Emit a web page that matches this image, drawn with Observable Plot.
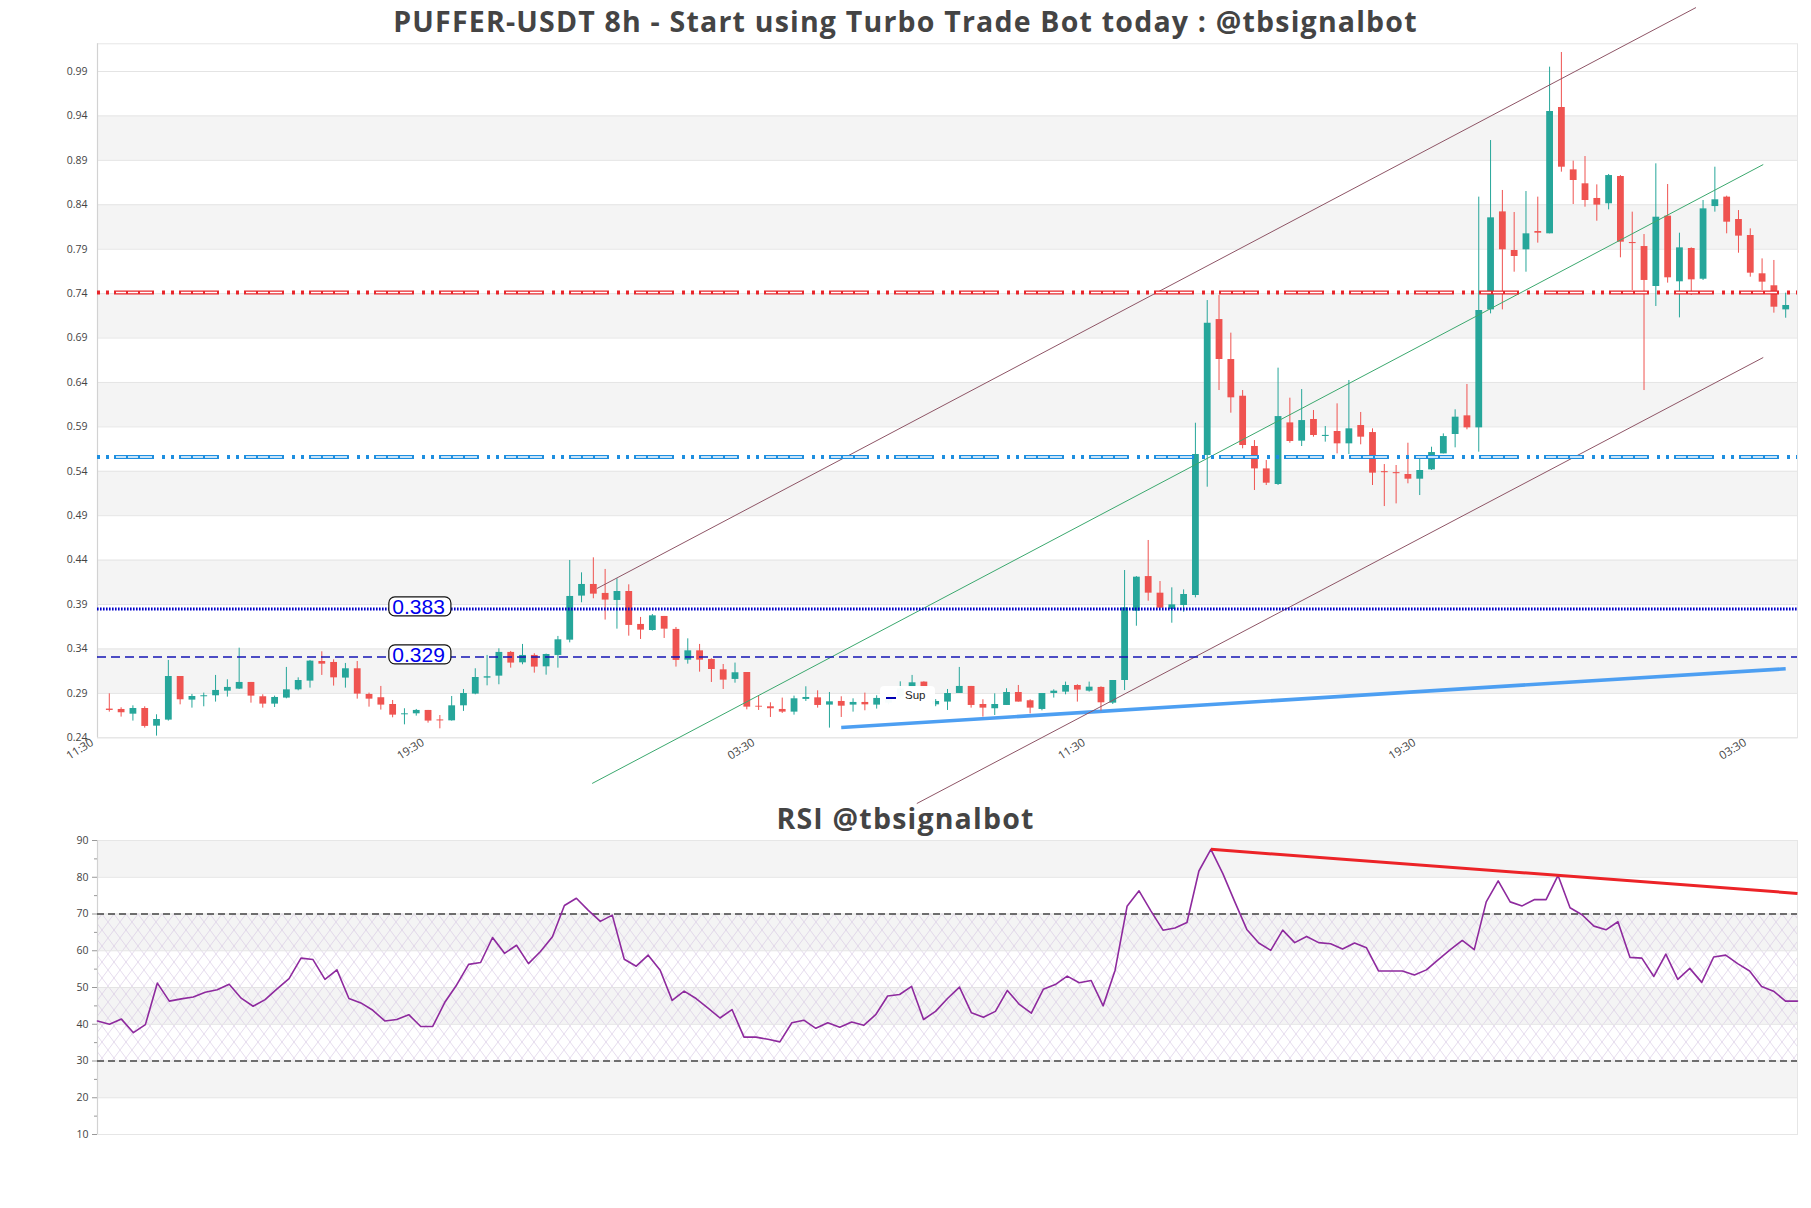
<!DOCTYPE html>
<html>
<head>
<meta charset="utf-8">
<script src="https://cdn.jsdelivr.net/npm/d3@7"></script>
<script src="https://cdn.jsdelivr.net/npm/@observablehq/plot@0.6"></script>
<style>
  html, body { margin: 0; padding: 0; background: #fff; }
  #chart { position: relative; width: 1811px; height: 1208px; overflow: hidden; background: #fff; }
  #chart svg { position: absolute; left: 0; overflow: visible; }
  .ttl { position: absolute; left: 0; width: 1811px; text-align: center; font-family: "Open Sans", sans-serif;
         font-weight: 700; font-size: 28.5px; letter-spacing: 1.2px; color: #444; line-height: 1; white-space: nowrap; z-index: 5; }
  .legend { position: absolute; background: rgba(255,255,255,0.96); border-radius: 4px; z-index: 4; }
  .legend .ln { position: absolute; left: 6px; top: 10.5px; width: 10px; height: 2.6px; background: #0000b4; }
  .legend .tx { position: absolute; left: 25px; top: 3px; font-family: "Liberation Sans", sans-serif; font-size: 11.5px; color: #222; }
</style>
</head>
<body>
<div id="chart"></div>
<script>
// ---------------- data ----------------
const titleText = "PUFFER-USDT 8h - Start using Turbo Trade Bot today : @tbsignalbot";
const rsiTitleText = "RSI @tbsignalbot";
const legendText = "Sup";

const timeTickIndex = [-1, 27, 55, 83, 111, 139];
const timeLabels = ["11:30", "19:30", "03:30", "11:30", "19:30", "03:30"];

const open = [0.2723,0.2719,0.2666,0.2730,0.2531,0.2599,0.3090,0.2824,0.2862,0.2873,
0.2925,0.2948,0.3023,0.2862,0.2779,0.2847,0.2940,0.3038,0.3259,0.3248,
0.3072,0.3177,0.2888,0.2851,0.2775,0.2659,0.2670,0.2708,0.2601,0.2591,
0.2760,0.2892,0.3072,0.3094,0.3361,0.3244,0.3327,0.3199,0.3327,0.3499,
0.3995,0.4126,0.4025,0.3946,0.4047,0.3676,0.3608,0.3766,0.3620,0.3274,
0.3379,0.3282,0.3165,0.3057,0.3135,0.2755,0.2749,0.2719,0.2689,0.2832,
0.2850,0.2768,0.2809,0.2768,0.2798,0.2768,0.2790,0.2860,0.2970,0.3027,
0.2771,0.2802,0.2899,0.2978,0.2775,0.2727,0.2764,0.2910,0.2817,0.2719,
0.2899,0.2914,0.2989,0.2925,0.2967,0.2790,0.3045,0.3825,0.4215,0.4028,
0.3844,0.3889,0.4002,0.5577,0.7108,0.6658,0.6245,0.5679,0.5427,0.5251,
0.5945,0.5739,0.5983,0.5792,0.5848,0.5709,0.5915,0.5836,0.5396,0.5385,
0.5364,0.5311,0.5416,0.5596,0.5814,0.6024,0.5889,0.7217,0.8320,0.7885,
0.7893,0.8099,0.8073,0.9495,0.8793,0.8636,0.8471,0.8411,0.8718,0.7975,
0.7930,0.7480,0.8272,0.7533,0.7908,0.7562,0.8380,0.8486,0.8234,0.8054,
0.7623,0.7488,0.7217];
const high = [0.2895,0.2738,0.2760,0.2749,0.2659,0.3271,0.3090,0.2888,0.2903,0.3102,
0.3053,0.3409,0.3023,0.2884,0.2869,0.3192,0.3075,0.3271,0.3368,0.3278,
0.3237,0.3259,0.2903,0.2978,0.2820,0.2727,0.2719,0.2708,0.2651,0.2865,
0.2944,0.3177,0.3327,0.3402,0.3372,0.3451,0.3346,0.3342,0.3541,0.4396,
0.4257,0.4426,0.4295,0.4190,0.4122,0.3755,0.3788,0.3766,0.3642,0.3514,
0.3451,0.3289,0.3225,0.3241,0.3135,0.2869,0.2794,0.2847,0.2869,0.2974,
0.2929,0.2910,0.2862,0.2839,0.2903,0.2873,0.2860,0.3030,0.3102,0.3030,
0.2830,0.2944,0.3192,0.2978,0.2828,0.2895,0.2952,0.2989,0.2828,0.2899,
0.2940,0.3027,0.2997,0.3027,0.2974,0.3045,0.4283,0.4215,0.4621,0.4159,
0.4088,0.4065,0.5941,0.7322,0.7378,0.6955,0.6309,0.5746,0.5521,0.6561,
0.6223,0.6320,0.6084,0.5904,0.6159,0.6422,0.6062,0.5878,0.5476,0.5465,
0.5716,0.5540,0.5671,0.5821,0.6092,0.6377,0.8486,0.9123,0.8561,0.8313,
0.8549,0.8486,0.9949,1.0114,0.8891,0.8943,0.8624,0.8741,0.8729,0.8317,
0.8065,0.8861,0.8628,0.8080,0.7915,0.8448,0.8823,0.8497,0.8335,0.8129,
0.7791,0.7773,0.7405];
const low = [0.2689,0.2633,0.2588,0.2509,0.2419,0.2588,0.2771,0.2734,0.2749,0.2802,
0.2858,0.2944,0.2790,0.2734,0.2741,0.2839,0.2929,0.2959,0.3102,0.2982,
0.2959,0.2835,0.2745,0.2712,0.2625,0.2546,0.2644,0.2565,0.2501,0.2588,
0.2697,0.2884,0.2985,0.2997,0.3184,0.3222,0.3128,0.3105,0.3184,0.3469,
0.3920,0.3965,0.3725,0.3623,0.3544,0.3507,0.3601,0.3518,0.3196,0.3229,
0.3139,0.3023,0.2944,0.3015,0.2715,0.2708,0.2629,0.2674,0.2655,0.2809,
0.2734,0.2509,0.2629,0.2689,0.2704,0.2723,0.2770,0.2840,0.2960,0.2940,
0.2750,0.2708,0.2899,0.2734,0.2633,0.2651,0.2764,0.2802,0.2670,0.2704,
0.2847,0.2884,0.2802,0.2914,0.2700,0.2775,0.2932,0.3656,0.3938,0.3859,
0.3690,0.3814,0.3975,0.5221,0.6309,0.6054,0.5653,0.5184,0.5240,0.5240,
0.5716,0.5679,0.5784,0.5728,0.5596,0.5589,0.5698,0.5240,0.5003,0.5033,
0.5259,0.5127,0.5409,0.5596,0.5664,0.5867,0.5615,0.7172,0.7217,0.7641,
0.7641,0.7968,0.8073,0.8767,0.8403,0.8373,0.8215,0.8343,0.7803,0.7435,
0.6309,0.7255,0.7518,0.7127,0.7379,0.7548,0.8317,0.8073,0.7855,0.7585,
0.7435,0.7180,0.7123];
const close = [0.2708,0.2682,0.2730,0.2528,0.2606,0.3090,0.2828,0.2865,0.2873,0.2933,
0.2967,0.3023,0.2869,0.2779,0.2854,0.2940,0.3045,0.3263,0.3229,0.3075,
0.3177,0.2892,0.2835,0.2768,0.2655,0.2670,0.2708,0.2588,0.2590,0.2760,
0.2899,0.3079,0.3087,0.3361,0.3241,0.3327,0.3196,0.3338,0.3503,0.3991,
0.4126,0.4017,0.3950,0.4047,0.3665,0.3612,0.3773,0.3623,0.3271,0.3379,
0.3274,0.3169,0.3049,0.3132,0.2745,0.2745,0.2727,0.2689,0.2839,0.2854,
0.2764,0.2805,0.2756,0.2798,0.2771,0.2843,0.2830,0.2950,0.3019,0.2960,
0.2809,0.2899,0.2978,0.2764,0.2734,0.2775,0.2910,0.2802,0.2734,0.2899,
0.2925,0.2989,0.2937,0.2970,0.2794,0.3045,0.3863,0.4208,0.4028,0.3859,
0.3897,0.4013,0.5589,0.7067,0.6658,0.6227,0.5690,0.5427,0.5266,0.6016,
0.5735,0.5971,0.5803,0.5804,0.5709,0.5878,0.5784,0.5379,0.5384,0.5373,
0.5311,0.5409,0.5611,0.5791,0.6009,0.5889,0.7210,0.8253,0.7893,0.7818,
0.8073,0.8080,0.9450,0.8823,0.8673,0.8448,0.8396,0.8729,0.7979,0.7963,
0.7548,0.8260,0.7578,0.7915,0.7555,0.8354,0.8456,0.8204,0.8047,0.7630,
0.7529,0.7247,0.7266];

const rsi = [40.9,40.0,41.4,37.7,39.9,51.2,46.3,46.9,47.4,48.7,
49.4,50.9,47.1,44.9,46.7,49.6,52.4,58.0,57.6,52.2,
54.8,47.0,45.8,43.8,40.9,41.3,42.6,39.4,39.4,45.9,
50.7,56.3,56.8,63.6,59.3,61.5,56.5,59.8,63.8,72.3,
74.3,71.0,68.0,69.7,57.7,55.8,58.8,54.7,46.5,49.0,
47.0,44.4,41.7,44.0,36.5,36.5,35.9,35.2,40.4,41.1,
38.9,40.4,39.2,40.6,39.7,42.6,47.7,48.1,50.3,41.3,
43.5,47.0,50.1,43.1,41.9,43.5,49.2,45.4,43.0,49.5,
50.8,53.1,51.3,51.9,45.0,54.7,72.1,76.3,70.8,65.6,
66.2,67.7,81.7,87.6,81.0,73.3,65.8,62.1,60.1,65.6,
62.2,63.9,62.2,61.9,60.5,62.1,60.8,54.5,54.5,54.5,
53.4,54.8,57.6,60.3,62.8,60.3,73.3,79.0,73.3,72.2,
73.9,73.9,80.5,71.7,69.8,66.7,65.7,67.9,58.2,58.0,
53.0,59.1,52.2,55.2,51.4,58.3,58.8,56.5,54.5,50.3,
49.0,46.3,46.3];

const yTicks = [0.24,0.29,0.34,0.39,0.44,0.49,0.54,0.59,0.64,0.69,0.74,0.79,0.84,0.89,0.94,0.99];
const yTickLabels = ["0.24","0.29","0.34","0.39","0.44","0.49","0.54","0.59","0.64","0.69","0.74","0.79","0.84","0.89","0.94","0.99"];
const rsiTicks = [10,20,30,40,50,60,70,80,90];
const rsiMinorTicks = [15,25,35,45,55,65,75,85];
const rsiLevels = [70, 30];

const resistanceLevel = 0.7413;
const supplyLevel = 0.5561;
const fibLevels = [0.3850, 0.3310];
const fibLabels = ["0.383", "0.329"];

// trend channel (candle index, price)
const channelUpper = [[41.3, 0.408], [134.4, 1.062]];
const channelMiddle = [[40.9, 0.1886], [140.1, 0.8853]];
const channelLower = [[68.4, 0.166], [140.1, 0.6681]];
const supportLine = [[62, 0.2516], [142, 0.3177]];
// RSI divergence line (index, rsi)
const rsiTrend = [[93, 87.6], [142, 75.6]];

// ---------------- styles ----------------
const GREEN = "#26a69a", RED = "#ef5350";
const BAND = "#f4f4f4", GRID = "#e4e4e4";
const fibLabelIndex = 26.2;
const PATTERN_BASE = "3,6,3,5,40,8";
const PATTERN_HOLLOW = "0,19,10,2,10,2,12,10";

const chart = document.getElementById("chart");

const candles = open.map((o, i) => ({i, open: o, high: high[i], low: low[i], close: close[i]}));
const ups = candles.filter(d => d.close >= d.open);
const downs = candles.filter(d => d.close < d.open);
const priceBands = yTicks.slice(0, -1).map((t, k) => ({y1: t, y2: yTicks[k + 1], k})).filter(d => d.k % 2 === 1);
const seg = (p, name) => ({x1: p[0][0], y1: p[0][1], x2: p[1][0], y2: p[1][1], name});
const brownLinks = [seg(channelUpper, "upper"), seg(channelLower, "lower")];
const greenLinks = [seg(channelMiddle, "middle")];
const supLinks = [seg(supportLine, "sup")];
const fibData = fibLevels.map((v, k) => ({x: fibLabelIndex, y: v, label: fibLabels[k]}));

const baseStyle = {fontFamily: "Open Sans", fontSize: "10.5px", color: "#444", background: "transparent", overflow: "visible"};

const priceSvg = Plot.plot({
  width: 1811, height: 810,
  marginLeft: 97, marginRight: 14, marginTop: 43.3, marginBottom: 72.7,
  x: {domain: [-1, 143], label: null},
  y: {domain: [0.24, 1.0212], label: null},
  style: baseStyle,
  marks: [
    Plot.rect(priceBands, {y1: "y1", y2: "y2", fill: BAND}),
    Plot.gridY(yTicks, {stroke: GRID, strokeOpacity: 1}),
    Plot.frame({stroke: "#e6e6e6"}),
    Plot.ruleX([-1], {stroke: "#d2d2d2", strokeWidth: 1.2}),
    Plot.axisY(yTicks, {tickSize: 0, tickPadding: 10, label: null, fill: "#444",
      tickFormat: d => yTickLabels[yTicks.indexOf(d)]}),
    Plot.axisX(timeTickIndex, {tickSize: 0, tickPadding: 3.5, tickRotate: -32, label: null, fill: "#444",
      fontSize: 11.5, dx: -5, tickFormat: d => timeLabels[timeTickIndex.indexOf(d)]}),
    Plot.link(supLinks, {x1: "x1", y1: "y1", x2: "x2", y2: "y2", stroke: "#4d9ff2", strokeWidth: 3.6}),
    Plot.ruleX(ups, {x: "i", y1: "low", y2: "high", stroke: GREEN, strokeWidth: 1}),
    Plot.ruleX(downs, {x: "i", y1: "low", y2: "high", stroke: RED, strokeWidth: 1}),
    Plot.ruleX(ups, {x: "i", y1: "open", y2: "close", stroke: GREEN, strokeWidth: 6.8}),
    Plot.ruleX(downs, {x: "i", y1: "open", y2: "close", stroke: RED, strokeWidth: 6.8}),
    Plot.link(brownLinks, {x1: "x1", y1: "y1", x2: "x2", y2: "y2", stroke: "#8e5566", strokeWidth: 1}),
    Plot.link(greenLinks, {x1: "x1", y1: "y1", x2: "x2", y2: "y2", stroke: "#3ba86e", strokeWidth: 1}),
    Plot.ruleY([resistanceLevel], {stroke: "#e8262b", strokeWidth: 4, strokeDasharray: PATTERN_BASE}),
    Plot.ruleY([resistanceLevel], {stroke: "#ffffff", strokeWidth: 1.5, strokeDasharray: PATTERN_HOLLOW}),
    Plot.ruleY([supplyLevel], {stroke: "#1e8fe0", strokeWidth: 4, strokeDasharray: PATTERN_BASE}),
    Plot.ruleY([supplyLevel], {stroke: "#ffffff", strokeWidth: 1.5, strokeDasharray: PATTERN_HOLLOW}),
    Plot.ruleY([fibLevels[0]], {stroke: "#0000c8", strokeWidth: 3, strokeDasharray: "1.6,1.4"}),
    Plot.ruleY([fibLevels[1]], {stroke: "#1414b4", strokeWidth: 1.5, strokeDasharray: "9,5"}),
    Plot.text(fibData, {x: "x", y: "y", text: "label", fill: "#0000ee", fontFamily: "Liberation Sans",
      fontSize: 21, textAnchor: "middle", dy: -2, className: "fib-label"})
  ]
});
priceSvg.style.top = "0px";
chart.appendChild(priceSvg);

// rounded boxes behind the level labels
d3.select(priceSvg).selectAll("g.fib-label text").each(function() {
  const b = this.getBBox();
  const cy = b.y + 0.547 * 21;
  const r = d3.select(this.parentNode).insert("rect", () => this)
    .attr("x", b.x - 3.5).attr("y", cy - 9.3)
    .attr("width", b.width + 9.5).attr("height", 19)
    .attr("rx", 6).attr("ry", 6)
    .attr("fill", "#fff").attr("stroke", "#111").attr("stroke-width", 1.2);
  const t = this.getAttribute("transform");
  if (t) r.attr("transform", t);
});

// ---------------- RSI panel ----------------
const rsiData = rsi.map((v, i) => ({i, v}));
const rsiBands = rsiTicks.slice(0, -1).map((t, k) => ({y1: t, y2: rsiTicks[k + 1], k})).filter(d => d.k % 2 === 1);
const hatchZone = [{y1: rsiLevels[1], y2: rsiLevels[0]}];
const rsiTrendLinks = [seg(rsiTrend, "div")];

const rsiSvg = Plot.plot({
  width: 1811, height: 398,
  marginLeft: 97, marginRight: 14, marginTop: 30, marginBottom: 74,
  x: {domain: [0, 142], label: null, axis: null},
  y: {domain: [10, 90], label: null},
  style: baseStyle,
  marks: [
    Plot.rect(rsiBands, {y1: "y1", y2: "y2", fill: BAND}),
    Plot.rect(hatchZone, {y1: "y1", y2: "y2", fill: "url(#rsiHatch)"}),
    Plot.gridY(rsiTicks, {stroke: GRID, strokeOpacity: 1}),
    Plot.frame({stroke: "#e6e6e6"}),
    Plot.ruleX([0], {stroke: "#d2d2d2", strokeWidth: 1.2}),
    Plot.axisY(rsiTicks, {tickSize: 5, tickPadding: 4, label: null, fill: "#444", stroke: "#999"}),
    Plot.axisY(rsiMinorTicks, {tickSize: 3, tickFormat: () => "", label: null, stroke: "#999"}),
    Plot.ruleY(rsiLevels, {stroke: "#444", strokeWidth: 1.3, strokeDasharray: "7,4"}),
    Plot.line(rsiData, {x: "i", y: "v", stroke: "#8e2a9e", strokeWidth: 1.6}),
    Plot.link(rsiTrendLinks, {x1: "x1", y1: "y1", x2: "x2", y2: "y2", stroke: "#ec2327", strokeWidth: 3})
  ]
});
rsiSvg.style.top = "810px";
chart.appendChild(rsiSvg);

const defs = d3.select(rsiSvg).insert("defs", ":first-child");
const pat = defs.append("pattern").attr("id", "rsiHatch").attr("patternUnits", "userSpaceOnUse")
  .attr("width", 12).attr("height", 16);
pat.append("path").attr("d", "M0,0L12,16M12,0L0,16").attr("stroke", "#d3c2e1")
  .attr("stroke-width", 0.6).attr("fill", "none");

// ---------------- titles & legend ----------------
const t1 = document.createElement("div");
t1.className = "ttl"; t1.style.top = "7.3px"; t1.textContent = titleText;
chart.appendChild(t1);
const t2 = document.createElement("div");
t2.className = "ttl"; t2.style.top = "804px"; t2.textContent = rsiTitleText;
chart.appendChild(t2);

const lg = document.createElement("div");
lg.className = "legend";
lg.style.left = "880px"; lg.style.top = "686px"; lg.style.width = "55px"; lg.style.height = "23px";
lg.innerHTML = '<span class="ln"></span><span class="tx"></span>';
lg.querySelector(".tx").textContent = legendText;
chart.appendChild(lg);
</script>
</body>
</html>
